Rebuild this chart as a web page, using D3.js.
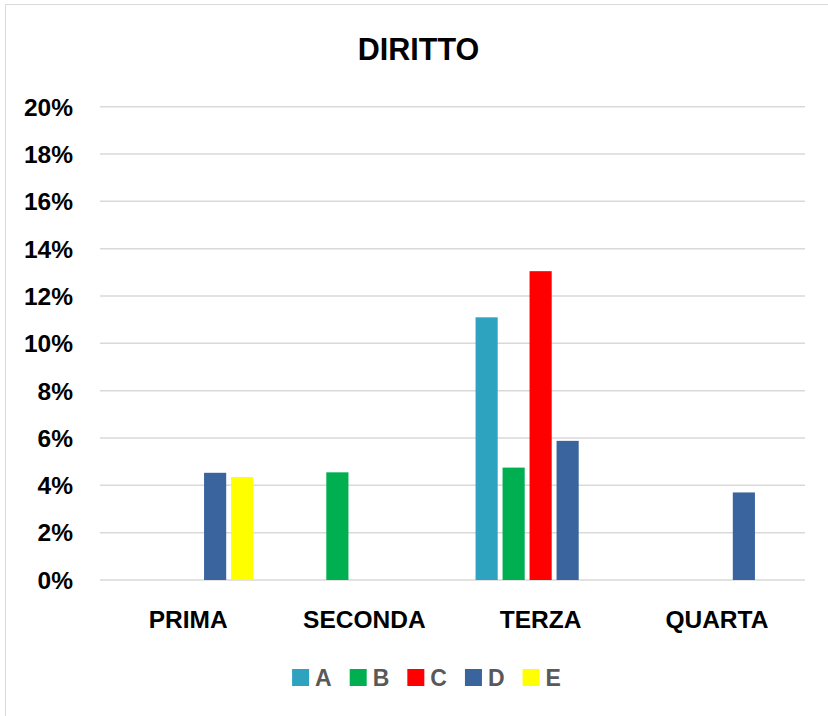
<!DOCTYPE html>
<html>
<head>
<meta charset="utf-8">
<script src="https://cdn.jsdelivr.net/npm/d3@7"></script>
<style>
  body { margin: 0; background: #fff; }
  svg { display: block; font-family: "Liberation Sans", Arial, sans-serif; font-weight: bold; }
</style>
</head>
<body>
<div id="chart"></div>
<script>
// data
const categories = ['PRIMA', 'SECONDA', 'TERZA', 'QUARTA'];
const seriesNames = ['A', 'B', 'C', 'D', 'E'];
const seriesColors = ['#2ea3c0', '#00b050', '#ff0000', '#3a649e', '#ffff00'];
// values per series, in order of categories (null = no bar)
const valuesA = [null, null, 0.111, null];
const valuesB = [null, 0.0455, 0.0475, null];
const valuesC = [null, null, 0.1305, null];
const valuesD = [0.0453, null, 0.0588, 0.037];
const valuesE = [0.0435, null, null, null];
const yTicks = [0, 0.02, 0.04, 0.06, 0.08, 0.10, 0.12, 0.14, 0.16, 0.18, 0.20];

const allValues = [valuesA, valuesB, valuesC, valuesD, valuesE];

const width = 828, height = 716;
const svg = d3.select('#chart').append('svg')
    .attr('width', width)
    .attr('height', height);

// chart frame (only left & top edges visible)
svg.append('path')
    .attr('d', 'M5.5,716 V4.5 H828')
    .attr('fill', 'none')
    .attr('stroke', '#d9d9d9')
    .attr('stroke-width', 1);

const x0 = d3.scaleBand()
    .domain(categories)
    .range([100, 805])
    .paddingInner(0.234)
    .paddingOuter(0.117);

const x1 = d3.scaleBand()
    .domain(seriesNames)
    .range([0, x0.bandwidth()])
    .paddingInner(0.18)
    .paddingOuter(0.09);

const y = d3.scaleLinear()
    .domain([0, 0.20])
    .range([580, 106.7]);

// gridlines
svg.append('g')
    .selectAll('line')
    .data(yTicks)
    .join('line')
    .attr('x1', 100)
    .attr('x2', 805)
    .attr('y1', d => y(d))
    .attr('y2', d => y(d))
    .attr('stroke', '#d9d9d9')
    .attr('stroke-width', 1.5);

// y tick labels
svg.append('g')
    .selectAll('text')
    .data(yTicks)
    .join('text')
    .attr('x', 73)
    .attr('y', d => y(d))
    .attr('dy', '0.36em')
    .attr('text-anchor', 'end')
    .style('font-size', '24.5px')
    .attr('fill', '#000')
    .text(d => d3.format('.0%')(d));

// bars
const bars = [];
seriesNames.forEach((s, i) => {
    categories.forEach((c, j) => {
        const v = allValues[i][j];
        if (v != null) bars.push({ series: s, cat: c, value: v, color: seriesColors[i] });
    });
});

svg.append('g')
    .selectAll('rect')
    .data(bars)
    .join('rect')
    .attr('x', d => x0(d.cat) + x1(d.series))
    .attr('width', x1.bandwidth())
    .attr('y', d => y(d.value))
    .attr('height', d => y(0) - y(d.value))
    .attr('fill', d => d.color);

// category labels
svg.append('g')
    .selectAll('text')
    .data(categories)
    .join('text')
    .attr('x', d => x0(d) + x0.bandwidth() / 2)
    .attr('y', 627.5)
    .attr('text-anchor', 'middle')
    .style('font-size', '24.5px')
    .attr('fill', '#000')
    .text(d => d);

// title
svg.append('text')
    .attr('x', 418.5)
    .attr('y', 60)
    .attr('text-anchor', 'middle')
    .style('font-size', '30.5px')
    .attr('fill', '#000')
    .text('DIRITTO');

// legend
const legend = svg.append('g');
let lx = 0;
seriesNames.forEach((s, i) => {
    const item = legend.append('g').attr('transform', `translate(${lx},0)`);
    item.append('rect')
        .attr('x', 0).attr('y', 669)
        .attr('width', 17).attr('height', 17)
        .attr('fill', seriesColors[i]);
    const t = item.append('text')
        .attr('x', 23).attr('y', 685.5)
        .style('font-size', '23px')
        .attr('fill', '#595959')
        .text(s);
    lx += 23 + t.node().getComputedTextLength() + 18;
});
const legendW = lx - 18;
legend.attr('transform', `translate(${426.5 - legendW / 2},0)`);
</script>
</body>
</html>
